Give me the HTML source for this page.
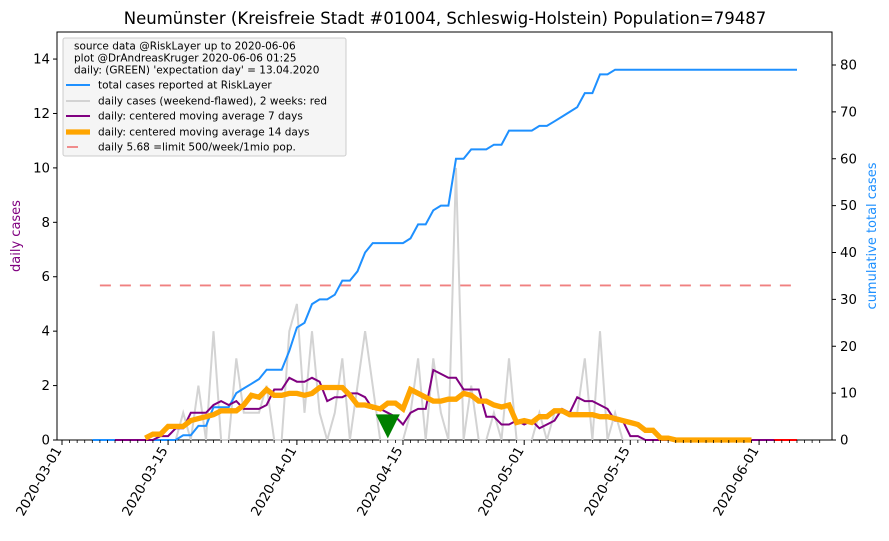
<!DOCTYPE html>
<html><head><meta charset="utf-8"><style>
body{margin:0;background:#fff;}
svg text{font-family:"DejaVu Sans","Liberation Sans",sans-serif;}
</style></head><body>
<svg id="chart" width="889" height="536" xmlns="http://www.w3.org/2000/svg">
<rect width="889" height="536" fill="#fff"/>
<text x="445" y="24" font-size="16.5" text-anchor="middle">Neumünster (Kreisfreie Stadt #01004, Schleswig-Holstein) Population=79487</text>
<g id="plot"></g>
<text transform="translate(20,236) rotate(-90)" font-size="13" fill="purple" text-anchor="middle">daily cases</text>
<text transform="translate(876,236) rotate(-90)" font-size="13" fill="#1e90ff" text-anchor="middle">cumulative total cases</text>
</svg>
<script>
// Cumulative total cases starting at day-offset 4 (2020-03-05)
const startDay = 4;
const cumulative = [0,0,0,0,0,0,0,0,0,0,0,0,
 1,1,3,3,7,7,7,10,11,12,13,15,15,15,19,24,25,29,30,30,31,34,34,36,40,42,42,42,42,42,43,46,46,49,50,50,60,60,62,62,62,63,63,66,66,66,66,67,67,68,69,70,71,74,74,78,78,79,
 79,79,79,79,79,79,79,79,79,79,79,79,79,79,79,79,79,79,79,79,79,79,79,79];
const limitValue = 5.68;
const expectationDay = 43; // 2020-04-13
const leftTicks = [0,2,4,6,8,10,12,14];
const rightTicks = [0,10,20,30,40,50,60,70,80];
const dateTicks = ["2020-03-01","2020-03-15","2020-04-01","2020-04-15","2020-05-01","2020-05-15","2020-06-01"];
const dateTickDays = [0,14,31,45,61,75,92];

const NS="http://www.w3.org/2000/svg";
const L=57,R=832,T=32,B=440;
const xS=d=>62+7.577*d;
const yL=v=>B-v*27.21;
const yR=v=>B-v*4.6875;
const plot=document.getElementById('plot');
function mk(tag,attrs,parent){const e=document.createElementNS(NS,tag);for(const k in attrs)e.setAttribute(k,attrs[k]);(parent||plot).appendChild(e);return e;}

const daily=cumulative.map((v,i)=>i===0?0:v-cumulative[i-1]);
function ma(arr,w){const out=[];const before=Math.floor(w/2),after=w-before-1;
 for(let i=0;i<arr.length;i++){if(i-before<0||i+after>=arr.length){out.push(null);continue;}
  let s=0;for(let j=i-before;j<=i+after;j++)s+=arr[j];out.push(s/w);}return out;}
const ma7=ma(daily,7), ma14=ma(daily,14);
function pathOf(arr,ys,from,to){let p='';for(let i=from;i<to;i++){if(arr[i]==null)continue;p+=(p?'L':'M')+xS(startDay+i).toFixed(1)+','+ys(arr[i]).toFixed(1);}return p;}

const frame=mk('rect',{x:L,y:T,width:R-L,height:B-T,fill:'none',stroke:'#000','stroke-width':1});



const lim=mk('line',{x1:xS(5),x2:xS(97),y1:yL(limitValue),y2:yL(limitValue),stroke:'#f08080','stroke-width':1.8,'stroke-dasharray':'11,9'});



const n=daily.length;
const g=mk('path',{d:pathOf(daily,yL,0,n-13),fill:'none',stroke:'#d3d3d3','stroke-width':2});


const gr=mk('path',{d:pathOf(daily,yL,n-14,n),fill:'none',stroke:'red','stroke-width':2});



const cu=mk('path',{d:pathOf(cumulative,yR,0,n),fill:'none',stroke:'#1e90ff','stroke-width':2});


const p7=mk('path',{d:pathOf(ma7,yL,0,n),fill:'none',stroke:'purple','stroke-width':2});


const p14=mk('path',{d:pathOf(ma14,yL,0,n),fill:'none',stroke:'orange','stroke-width':5.3});



const ex=xS(expectationDay), ey=yL(0.5);
const tri=mk('polygon',{points:`${ex-12},${ey-12} ${ex+12},${ey-12} ${ex},${ey+12}`,fill:'green'});



leftTicks.forEach(v=>{
 mk('line',{x1:L-4,x2:L,y1:yL(v),y2:yL(v),stroke:'#000'});
 const t=mk('text',{x:L-7,y:yL(v)+4.5,'font-size':13.3,'text-anchor':'end'});t.textContent=v;
 
 
});
rightTicks.forEach(v=>{
 mk('line',{x1:R,x2:R+4,y1:yR(v),y2:yR(v),stroke:'#000'});
 const t=mk('text',{x:R+8,y:yR(v)+4.5,'font-size':13.3});t.textContent=v;
 
 
});
for(let d=0;d<=100;d++){const x=xS(d);if(x<L||x>R)continue;
 const major=dateTickDays.includes(d);
 mk('line',{x1:x,x2:x,y1:B,y2:B+(major?5:3),stroke:'#000','stroke-width':major?1:0.8});}
dateTicks.forEach((s,i)=>{const x=xS(dateTickDays[i]);
 const t=mk('text',{transform:`translate(${x},${B+10}) rotate(-60)`,'font-size':13.3,'text-anchor':'end'});t.textContent=s;
 
 
});

const lg=mk('g',{});


mk('rect',{x:63,y:38,width:283,height:118,fill:'#f5f5f5',stroke:'#ccc',rx:2},lg);
[["source data @RiskLayer up to 2020-06-06",46],["plot @DrAndreasKruger 2020-06-06 01:25",58],["daily: (GREEN) 'expectation day' = 13.04.2020",70]].forEach(([s,y])=>{
 const t=mk('text',{x:74,y:y+3.5,'font-size':10.5},lg);t.textContent=s;});
const entries=[["total cases reported at RiskLayer",85,'#1e90ff',2,''],
 ["daily cases (weekend-flawed), 2 weeks: red",101,'#d3d3d3',2,''],
 ["daily: centered moving average 7 days",116,'purple',2,''],
 ["daily: centered moving average 14 days",132,'orange',5.3,''],
 ["daily 5.68 =limit 500/week/1mio pop.",147,'#f08080',1.8,'8,100']];
entries.forEach(([s,y,c,w,da])=>{
 mk('line',{x1:da?67:66,x2:da?78:90,y1:y,y2:y,stroke:c,'stroke-width':w},lg);
 const t=mk('text',{x:98,y:y+3.5,'font-size':10.5},lg);t.textContent=s;
 
 
});
</script>
</body></html>
